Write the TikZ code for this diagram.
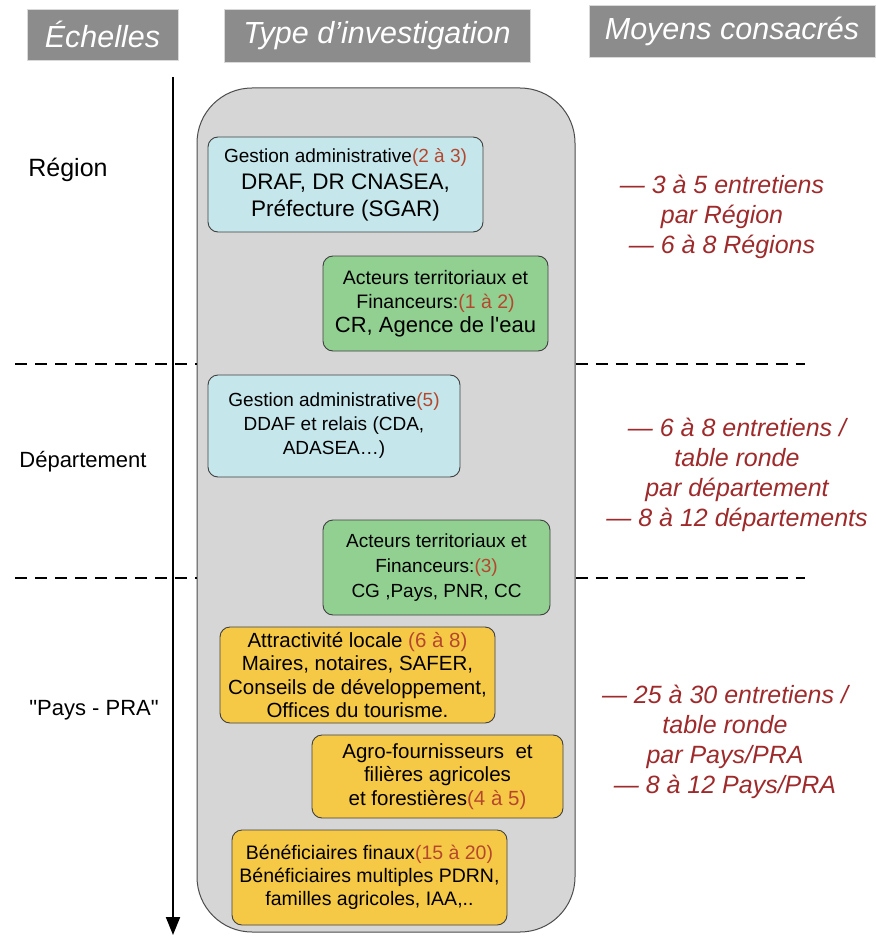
\documentclass[tikz,border=0pt]{standalone}
\usepackage{fontspec}
\setmainfont{Liberation Sans}[Ligatures=TeXOff]
\usetikzlibrary{positioning,arrows.meta}

\definecolor{titregris}{HTML}{8C8C8C}
\definecolor{cadregris}{HTML}{D6D6D6}
\definecolor{gestbleu}{HTML}{C5E6EB}
\definecolor{actvert}{HTML}{92D092}
\definecolor{locjaune}{HTML}{F5C945}
\definecolor{nbrouge}{HTML}{B5472E}
\definecolor{moyrouge}{HTML}{9E2A2B}
\newcommand{\nb}[1]{\textcolor{nbrouge}{#1}}
\newcommand{\fs}[2]{\fontsize{#1}{#2}\selectfont}

\tikzset{
  titre/.style={fill=titregris, draw=black!15, text=white, font=\itshape\fs{30.5}{34}},
  echelle/.style={font=\fs{22}{25}},
  limite/.style={line width=2.5pt, dash pattern=on 12pt off 8pt},
  boite/.style={draw=black!75, line width=0.9pt, rounded corners=10pt, align=center, inner sep=0pt},
  gestion/.style={boite, fill=gestbleu},
  acteur/.style={boite, fill=actvert},
  local/.style={boite, fill=locjaune, font=\fs{20.5}{23.5}},
  moyen/.style={text=moyrouge, font=\itshape\fs{25}{30}, align=center},
}

\begin{document}
\begin{tikzpicture}[x=1pt,y=-1pt]
    \useasboundingbox (0,0) rectangle (875,936);
    % titres
    \node[titre, minimum width=151pt, minimum height=51pt] (ech) at (102.5,34.5) {Échelles};
    \node[titre, minimum width=306pt, minimum height=53pt] (typ) at (377,35.5) {Type d’investigation};
    \node[titre, minimum width=286pt, minimum height=52pt] (moy) at (732,31) {Moyens consacrés};
    % cadre
    \node[draw=black!70, line width=1pt, fill=cadregris, rounded corners=55pt,
          minimum width=378pt, minimum height=844pt] (cadre) at (386,510) {};
    % axe des echelles
    \coordinate (haut) at (173,77);
    \coordinate (bas) at (173,935);
    \draw[line width=2pt, -{Triangle[length=18pt,width=14pt]}] (haut) -- (bas);
    \node[echelle, font=\fs{25}{28}] (reg) at (68,170) {Région};
    \node[echelle] (dep) at (83,462) {Département};
    \node[echelle] (pays) at (94,710) {"Pays - PRA"};
    % limites
    \coordinate (l1g) at (15,364);
    \coordinate (l1d) at (805,364);
    \coordinate (l2g) at (15,578);
    \coordinate (l2d) at (805,578);
    \draw[limite] (l1g) -- (l1g -| cadre.west);
    \draw[limite] (l1d -| cadre.east) -- (l1d);
    \draw[limite] (l2g) -- (l2g -| cadre.west);
    \draw[limite] (l2d -| cadre.east) -- (l2d);
    % Region
    \node[gestion, minimum width=275pt, minimum height=95pt, font=\fs{19}{27}] (g1) at (345.5,184.5)
      {Gestion administrative\nb{(2 à 3)}\\ \fs{22.5}{27}DRAF, DR CNASEA,\\ \fs{22.5}{27}Préfecture (SGAR)};
    \node[acteur, minimum width=225pt, minimum height=95pt, font=\fs{19.5}{24}] (a1) at (435.5,303.5)
      {Acteurs territoriaux et\\ Financeurs:\nb{(1 à 2)}\\ \fs{22}{27}CR, Agence de l'eau};
    % Departement
    \node[gestion, minimum width=252pt, minimum height=102pt, font=\fs{19}{24}] (g2) at (334,426)
      {Gestion administrative\nb{(5)}\\ DDAF et relais (CDA,\\ ADASEA…)};
    \node[acteur, minimum width=227pt, minimum height=95pt, font=\fs{19}{25}] (a2) at (436.5,567.5)
      {Acteurs territoriaux et\\ Financeurs:\nb{(3)}\\ CG ,Pays, PNR, CC};
    % Pays - PRA
    \node[local, minimum width=275pt, minimum height=96pt] (p1) at (357.5,675)
      {Attractivité locale \nb{(6 à 8)}\\ Maires, notaires, SAFER,\\ Conseils de développement,\\ Offices du tourisme.};
    \node[local, minimum width=251pt, minimum height=83pt] (p2) at (437.5,776.5)
      {Agro-fournisseurs\ \ et\\ filières agricoles\\ et forestières\nb{(4 à 5)}};
    \node[local, minimum width=275pt, minimum height=95pt, font=\fs{19.5}{23}] (p3) at (369.5,877.5)
      {Bénéficiaires finaux\nb{(15 à 20)}\\ Bénéficiaires multiples PDRN,\\ familles agricoles, IAA,..};
    % moyens
    \node[moyen] (m1) at (722,217) {— 3 à 5 entretiens\\ par Région\\ — 6 à 8 Régions};
    \node[moyen] (m2) at (737,475) {— 6 à 8 entretiens /\\ table ronde\\ par département\\ — 8 à 12 départements};
    \node[moyen] (m3) at (725,742) {— 25 à 30 entretiens /\\ table ronde\\ par Pays/PRA\\ — 8 à 12 Pays/PRA};
\end{tikzpicture}
\end{document}
